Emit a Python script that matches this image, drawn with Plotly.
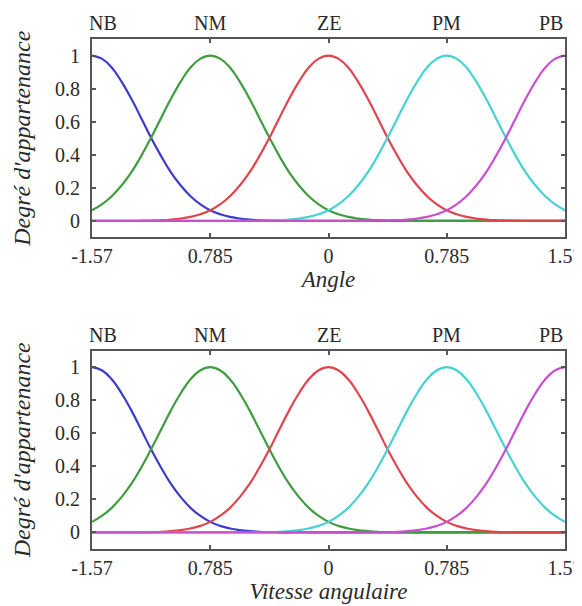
import plotly.graph_objects as go

# ---- data ----
X = [-1.57, -1.505, -1.439, -1.374, -1.308, -1.243, -1.178, -1.112, -1.047, -0.981,
     -0.916, -0.850, -0.785, -0.720, -0.654, -0.589, -0.523, -0.458, -0.392, -0.327,
     -0.262, -0.196, -0.131, -0.065, 0.0, 0.065, 0.131, 0.196, 0.262, 0.327,
     0.392, 0.458, 0.523, 0.589, 0.654, 0.720, 0.785, 0.850, 0.916, 0.981,
     1.047, 1.112, 1.178, 1.243, 1.308, 1.374, 1.439, 1.505, 1.57]

NB = [1.0, 0.981, 0.927, 0.842, 0.737, 0.621, 0.503, 0.393, 0.295, 0.214,
      0.149, 0.100, 0.064, 0.040, 0.024, 0.014, 0.008, 0.004, 0.002, 0.001,
      0, 0, 0, 0, 0, 0, 0, 0, 0, 0,
      0, 0, 0, 0, 0, 0, 0, 0, 0, 0,
      0, 0, 0, 0, 0, 0, 0, 0, 0]
NM = [0.064, 0.100, 0.149, 0.214, 0.295, 0.393, 0.503, 0.621, 0.737, 0.842,
      0.927, 0.981, 1.0, 0.981, 0.927, 0.842, 0.737, 0.621, 0.503, 0.393,
      0.295, 0.214, 0.149, 0.100, 0.064, 0.040, 0.024, 0.014, 0.008, 0.004,
      0.002, 0.001, 0, 0, 0, 0, 0, 0, 0, 0,
      0, 0, 0, 0, 0, 0, 0, 0, 0]
ZE = [0, 0, 0, 0, 0, 0.001, 0.002, 0.004, 0.008, 0.014,
      0.024, 0.040, 0.064, 0.100, 0.149, 0.214, 0.295, 0.393, 0.503, 0.621,
      0.737, 0.842, 0.927, 0.981, 1.0, 0.981, 0.927, 0.842, 0.737, 0.621,
      0.503, 0.393, 0.295, 0.214, 0.149, 0.100, 0.064, 0.040, 0.024, 0.014,
      0.008, 0.004, 0.002, 0.001, 0, 0, 0, 0, 0]
PM = [0, 0, 0, 0, 0, 0, 0, 0, 0, 0,
      0, 0, 0, 0, 0, 0, 0, 0.001, 0.002, 0.004,
      0.008, 0.014, 0.024, 0.040, 0.064, 0.100, 0.149, 0.214, 0.295, 0.393,
      0.503, 0.621, 0.737, 0.842, 0.927, 0.981, 1.0, 0.981, 0.927, 0.842,
      0.737, 0.621, 0.503, 0.393, 0.295, 0.214, 0.149, 0.100, 0.064]
PB = [0, 0, 0, 0, 0, 0, 0, 0, 0, 0,
      0, 0, 0, 0, 0, 0, 0, 0, 0, 0,
      0, 0, 0, 0, 0, 0, 0, 0, 0, 0.001,
      0.002, 0.004, 0.008, 0.014, 0.024, 0.040, 0.064, 0.100, 0.149, 0.214,
      0.295, 0.393, 0.503, 0.621, 0.737, 0.842, 0.927, 0.981, 1.0]

SETS = ["NB", "NM", "ZE", "PM", "PB"]
CENTERS = [-1.57, -0.785, 0.0, 0.785, 1.57]
BOTTOM_TICKS = ["-1.57", "0.785", "0", "0.785", "1.57"]
Y_TICKS = [0, 0.2, 0.4, 0.6, 0.8, 1]
Y_TICK_LABELS = ["0", "0.2", "0.4", "0.6", "0.8", "1"]
X_TITLES = ["Angle", "Vitesse angulaire"]
Y_TITLE = "Degré d'appartenance"

SERIES = [NB, NM, ZE, PM, PB]
COLORS = ["#3b3bcc", "#3f9c3f", "#e0454b", "#45d2d2", "#c94fd0"]

FONT = "Liberation Serif"
FRAME = "#555555"
TXT = "#2a2a2a"

fig = go.Figure()

subplots = [("x", "y"), ("x2", "y2")]
for (xa, ya) in subplots:
    for name, ys, col in zip(SETS, SERIES, COLORS):
        fig.add_trace(go.Scatter(x=X, y=ys, xaxis=xa, yaxis=ya, mode="lines",
                                 line=dict(color=col, width=2.2, shape="spline", smoothing=1.3),
                                 name=name, showlegend=False, hoverinfo="skip"))

# set names written above each frame, at their centres (end ones kept inside the frame width)
anchors = ["left", "center", "center", "center", "right"]
shifts = [-5, 0, 0, 0, 0]
annotations = []
for (xa, ya) in subplots:
    for name, c, anc, sh in zip(SETS, CENTERS, anchors, shifts):
        annotations.append(dict(text=name, x=c, xref=xa, y=1, yref=f"{ya} domain",
                                xanchor=anc, yanchor="bottom", xshift=sh, yshift=3,
                                showarrow=False,
                                font=dict(family=FONT, size=20, color=TXT)))

domains = [[0.611, 1.0], [0.0, 0.389]]

def xaxis_cfg(dom_anchor, title):
    return dict(range=[-1.57, 1.57], anchor=dom_anchor, domain=[0, 1], automargin=False,
                tickvals=CENTERS, ticktext=BOTTOM_TICKS,
                ticks="inside", ticklen=4, tickwidth=2, tickcolor=FRAME,
                showline=True, linecolor=FRAME, linewidth=2, mirror="ticks",
                showgrid=False, zeroline=False, ticklabeloverflow="allow",
                tickfont=dict(family=FONT, size=20, color=TXT),
                ticklabelstandoff=0,
                title=dict(text=title, standoff=3,
                           font=dict(family=FONT, size=23, color=TXT, style="italic")))

def yaxis_cfg(anchor, dom):
    return dict(range=[-0.1, 1.1], anchor=anchor, domain=dom, automargin=False,
                tickvals=Y_TICKS, ticktext=Y_TICK_LABELS,
                ticks="inside", ticklen=4, tickwidth=2, tickcolor=FRAME,
                showline=True, linecolor=FRAME, linewidth=2, mirror="ticks",
                showgrid=False, zeroline=False,
                tickfont=dict(family=FONT, size=20, color=TXT),
                ticklabelstandoff=6,
                title=dict(text=Y_TITLE, standoff=18,
                           font=dict(family=FONT, size=24, color=TXT, style="italic")))

# the page body adds an 8 px offset, so the figure is sized to the remaining area
fig.update_layout(
    width=574, height=598,
    margin=dict(l=84, r=17, t=31, b=57),
    paper_bgcolor="white", plot_bgcolor="white",
    xaxis=xaxis_cfg("y", X_TITLES[0]),
    xaxis2=xaxis_cfg("y2", X_TITLES[1]),
    yaxis=yaxis_cfg("x", domains[0]),
    yaxis2=yaxis_cfg("x2", domains[1]),
    annotations=annotations,
)

fig.write_html("out.html")
